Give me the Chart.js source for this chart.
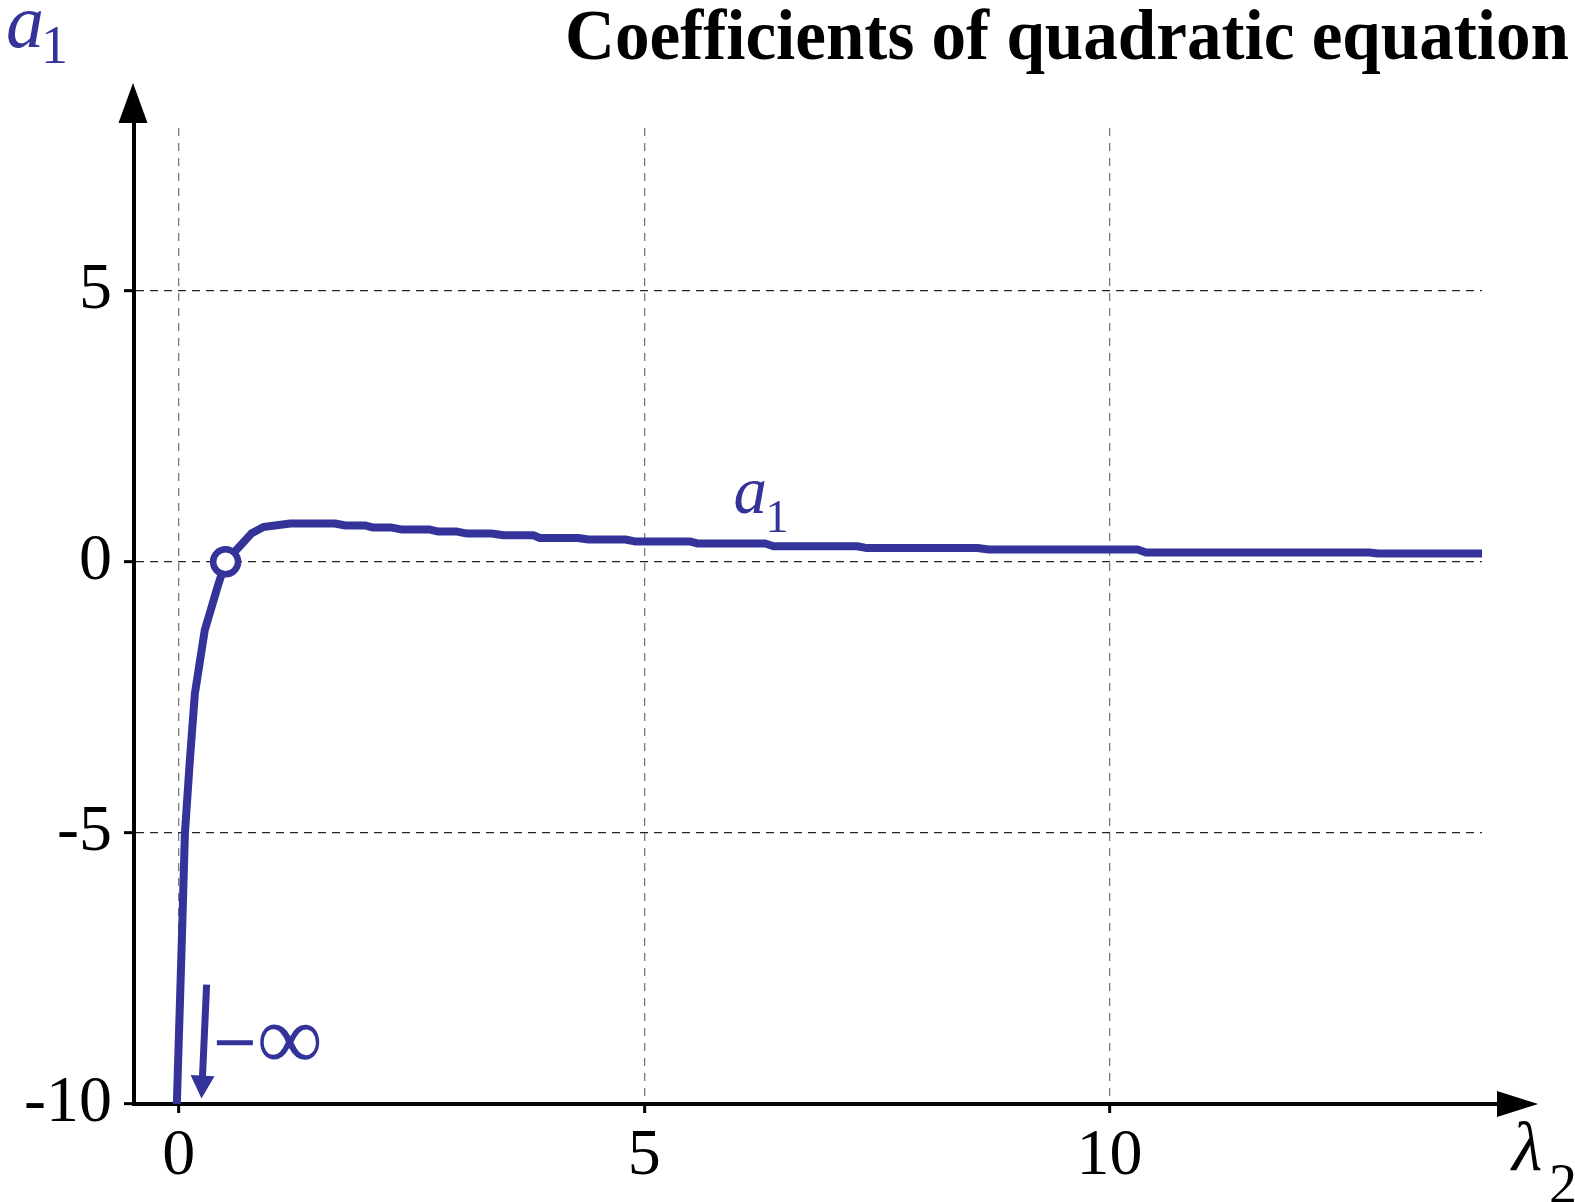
<!DOCTYPE html>
<html>
<head>
<meta charset="utf-8">
<script src="https://cdn.jsdelivr.net/npm/chart.js@4.4.1/dist/chart.umd.min.js"></script>
<style>
  html, body { margin: 0; padding: 0; background: #fff; }
  canvas { display: block; }
</style>
</head>
<body>
<canvas id="myChart" width="1575" height="1202"></canvas>
<script>
// values: a1 as a function of lambda2
const lambda2 = [-0.02, 0.03, 0.067, 0.12, 0.174, 0.28, 0.42, 0.504, 0.78, 0.91, 1.2, 1.68, 1.79, 2.0, 2.09, 2.29,
    2.40, 2.70, 2.79, 2.99, 3.10, 3.36, 3.49, 3.81, 3.88, 4.29, 4.40, 4.80, 4.91, 5.50, 5.58, 6.30, 6.39,
    7.29, 7.38, 8.58, 8.70, 10.30, 10.39, 12.79, 12.88, 14.0]
const a1 = [-10, -7.2, -5.0, -3.66, -2.43, -1.26, -0.45, 0, 0.52, 0.64, 0.705, 0.705, 0.67, 0.67, 0.63, 0.63,
    0.594, 0.594, 0.557, 0.557, 0.52, 0.52, 0.489, 0.489, 0.439, 0.439, 0.41, 0.41, 0.373, 0.373, 0.336, 0.336, 0.286,
    0.286, 0.255, 0.255, 0.225, 0.225, 0.17, 0.17, 0.151, 0.151]

// root marked with an open circle
const rootX = [0.504]
const rootY = [0]

const xTicks = [0, 5, 10]
const yTicks = [-10, -5, 0, 5]

const BLUE = '#333399'
const SERIF = '"Liberation Serif", "Times New Roman", serif'

function arrowHead(ctx, tipX, tipY, dx, dy, len, half) {
    // triangle pointing along (dx, dy)
    const bx = tipX - dx * len, by = tipY - dy * len
    ctx.beginPath()
    ctx.moveTo(tipX, tipY)
    ctx.lineTo(bx - dy * half, by + dx * half)
    ctx.lineTo(bx + dy * half, by - dx * half)
    ctx.closePath()
    ctx.fill()
}

function subLabel(ctx, x, y, main, mainSize, sub, subSize, subDx, subDy) {
    ctx.font = 'italic ' + mainSize + 'px ' + SERIF
    ctx.textAlign = 'left'
    ctx.textBaseline = 'alphabetic'
    ctx.fillText(main, x, y)
    ctx.font = subSize + 'px ' + SERIF
    ctx.fillText(sub, x + subDx, y + subDy)
}

const extras = {
    id: 'extras',
    afterDraw(chart) {
        const ctx = chart.ctx
        const area = chart.chartArea
        const xs = chart.scales.x, ys = chart.scales.y
        ctx.save()

        // axis arrows
        ctx.fillStyle = '#000'
        ctx.strokeStyle = '#000'
        ctx.lineWidth = 4
        ctx.beginPath()
        ctx.moveTo(area.left, area.top)
        ctx.lineTo(area.left, area.top - 6)
        ctx.moveTo(area.right, area.bottom)
        ctx.lineTo(area.right + 16, area.bottom)
        ctx.stroke()
        arrowHead(ctx, area.left - 1, area.top - 45, 0, -1, 40, 14.5)
        arrowHead(ctx, area.right + 56, area.bottom, 1, 0, 41, 13)

        // title
        ctx.fillStyle = '#000'
        ctx.font = 'bold 72px ' + SERIF
        ctx.textBaseline = 'alphabetic'
        ctx.textAlign = 'left'
        const title = 'Coefficients of quadratic equation'
        const tw = ctx.measureText(title).width
        ctx.save()
        ctx.translate(565, 59)
        ctx.scale(1004 / tw, 1)
        ctx.fillText(title, 0, 0)
        ctx.restore()

        // axis names
        ctx.fillStyle = BLUE
        subLabel(ctx, 6, 47, 'a', 76, '1', 54, 35, 16)
        ctx.fillStyle = '#000'
        subLabel(ctx, 1512, 1170, '\u03bb', 70, '2', 56, 37, 33)

        // curve label
        ctx.fillStyle = BLUE
        subLabel(ctx, xs.getPixelForValue(5.96), ys.getPixelForValue(0.9), 'a', 67, '1', 46, 32, 19)

        // -infinity marker
        ctx.strokeStyle = BLUE
        ctx.fillStyle = BLUE
        ctx.lineWidth = 7
        const ax0 = xs.getPixelForValue(0.3), ay0 = ys.getPixelForValue(-7.8)
        const ax1 = xs.getPixelForValue(0.245), ay1 = ys.getPixelForValue(-9.9)
        const len = Math.hypot(ax1 - ax0, ay1 - ay0)
        const ux = (ax1 - ax0) / len, uy = (ay1 - ay0) / len
        ctx.beginPath()
        ctx.moveTo(ax0, ay0)
        ctx.lineTo(ax1 - ux * 20, ay1 - uy * 20)
        ctx.stroke()
        arrowHead(ctx, ax1, ay1, ux, uy, 23, 12)

        const mx = xs.getPixelForValue(0.41), my = ys.getPixelForValue(-8.87)
        ctx.textBaseline = 'middle'
        ctx.textAlign = 'left'
        ctx.fillRect(mx, my - 2.5, 36, 5)
        ctx.font = '80px ' + SERIF
        const iw = ctx.measureText('\u221e').width
        ctx.font = (80 * 66 / iw) + 'px ' + SERIF
        ctx.fillText('\u221e', mx + 40, my + 2)

        ctx.restore()
    }
}

function build() {
    const ctx = document.getElementById('myChart')
    new Chart(ctx, {
        type: 'line',
        data: {
            datasets: [{
                label: 'a1',
                order: 2,
                data: lambda2.map((x, i) => ({x: x, y: a1[i]})),
                borderColor: BLUE,
                borderWidth: 8,
                pointRadius: 0,
                tension: 0,
                borderJoinStyle: 'round',
                borderCapStyle: 'butt',
                fill: false
            }, {
                label: 'root',
                order: 1,
                data: rootX.map((x, i) => ({x: x, y: rootY[i]})),
                showLine: false,
                pointRadius: 12.5,
                pointBorderWidth: 6.5,
                pointBorderColor: BLUE,
                pointBackgroundColor: '#fff'
            }]
        },
        options: {
            responsive: false,
            devicePixelRatio: 1,
            animation: false,
            layout: {padding: {left: 0, top: 128, right: 93, bottom: 0}},
            plugins: {legend: {display: false}, tooltip: {enabled: false}, title: {display: false}},
            scales: {
                x: {
                    type: 'linear',
                    min: -0.48,
                    max: 14,
                    afterBuildTicks: s => { s.ticks = xTicks.map(v => ({value: v})) },
                    afterFit: s => { s.height = 98 },
                    grid: {color: '#7a7a7a', lineWidth: 1.3, drawTicks: true, tickLength: 9, tickWidth: 3, tickColor: '#000'},
                    border: {display: true, color: '#000', width: 4, dash: [8, 7]},
                    ticks: {
                        autoSkip: false, maxRotation: 0, padding: 4,
                        color: '#000', font: {family: SERIF, size: 66, lineHeight: 1.2},
                        callback: v => String(v)
                    }
                },
                y: {
                    type: 'linear',
                    min: -10,
                    max: 8,
                    afterBuildTicks: s => { s.ticks = yTicks.map(v => ({value: v})) },
                    afterFit: s => { s.width = 134 },
                    grid: {color: '#222', lineWidth: 1.3, drawTicks: true, tickLength: 10, tickWidth: 3, tickColor: '#000'},
                    border: {display: true, color: '#000', width: 4, dash: [8, 6]},
                    ticks: {
                        padding: 12,
                        color: '#000', font: {family: SERIF, size: 66, lineHeight: 1.2},
                        callback: v => String(v)
                    }
                }
            }
        },
        plugins: [extras]
    })
}

Promise.all([
    document.fonts.load('66px "Liberation Serif"'),
    document.fonts.load('bold 72px "Liberation Serif"'),
    document.fonts.load('italic 66px "Liberation Serif"')
]).then(build, build)
</script>
</body>
</html>
